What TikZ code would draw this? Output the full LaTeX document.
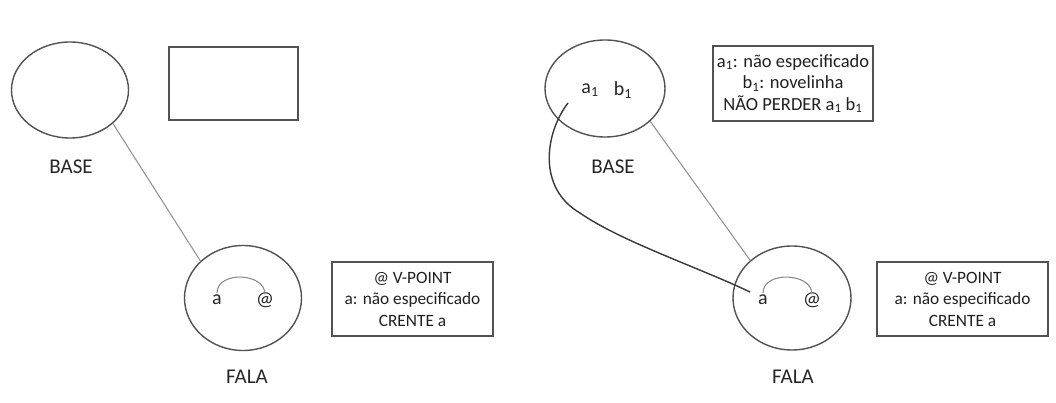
\documentclass[tikz,border=0pt]{standalone}
\usepackage{fontspec}
\setmainfont{Carlito}
\usetikzlibrary{shapes.geometric}
\begin{document}
\begin{tikzpicture}[x=1pt,y=-1pt,
  oval/.style={draw=black!68,line width=1.4pt,ellipse,inner sep=0pt},
  infobox/.style={draw=black!68,line width=1.3pt,inner sep=0pt,align=center,text=black!88,font=\fontsize{18.5}{21.5}\selectfont},
  smallbox/.style={infobox,font=\fontsize{17.3}{21.5}\selectfont},
  lbl/.style={font=\fontsize{21}{24}\selectfont,text=black!85},
  sym/.style={font=\fontsize{20}{22}\selectfont,text=black!85,inner sep=0pt},
  thin/.style={draw=black!42,line width=1.1pt},
  link/.style={draw=black!78,line width=1.4pt},
  arcl/.style={draw=black!45,line width=1.1pt}]
\useasboundingbox (0,0) rectangle (1056,403);
% left panel
\node[oval,minimum width=117pt,minimum height=96pt] (baseL) at (70,90) {};
\node[draw=black!68,line width=1.4pt,minimum width=129pt,minimum height=73pt] (boxL) at (233.5,83.5) {};
\node[lbl] (baseLt) at (71,167) {BASE};
\node[oval,minimum width=117pt,minimum height=105pt] (falaL) at (243,298) {};
\node[sym] (aL) at (217,300) {a};
\node[sym] (atL) at (265,300) {@};
\node[lbl] (falaLt) at (247,377) {FALA};
\node[smallbox,minimum width=161pt,minimum height=74pt] (infoL) at (412.5,299) {@ V-POINT\\a: não especificado\\CRENTE a};
\draw[thin] (baseL.-38) -- (falaL.139);
\draw[arcl] (aL.north) ++(0,-2) .. controls +(0,-22) and +(0,-22) .. ([yshift=-2pt]atL.north);
% right panel
\node[oval,minimum width=120pt,minimum height=97pt] (baseR) at (605,88.5) {};
\node[sym] (a1) at (590,90) {a\textsubscript{1}};
\node[sym] (b1) at (623,90) {b\textsubscript{1}};
\node[lbl] (baseRt) at (613,167) {BASE};
\node[infobox,minimum width=160pt,minimum height=75pt] (infoR) at (793,83.5) {a\textsubscript{1}: não especificado\\b\textsubscript{1}: novelinha\\NÃO PERDER a\textsubscript{1} b\textsubscript{1}};
\node[oval,minimum width=118pt,minimum height=104pt] (falaR) at (792,298) {};
\node[sym] (aR) at (763,300) {a};
\node[sym] (atR) at (812,300) {@};
\node[lbl] (falaRt) at (793,377) {FALA};
\node[smallbox,minimum width=171pt,minimum height=74pt] (infoR2) at (962.5,299) {@ V-POINT\\a: não especificado\\CRENTE a};
\draw[thin] (baseR.-36) -- (falaR.138);
\draw[arcl] (aR.north) ++(0,-2) .. controls +(0,-22) and +(0,-22) .. ([yshift=-2pt]atR.north);
\coordinate (cs) at (568,103);
\coordinate (cm) at (580,213);
\coordinate (ce) at (750,292);
\draw[link] (cs) .. controls (545,133) and (537,188) .. (cm) .. controls (620,241) and (700,268) .. (ce);
\end{tikzpicture}
\end{document}
